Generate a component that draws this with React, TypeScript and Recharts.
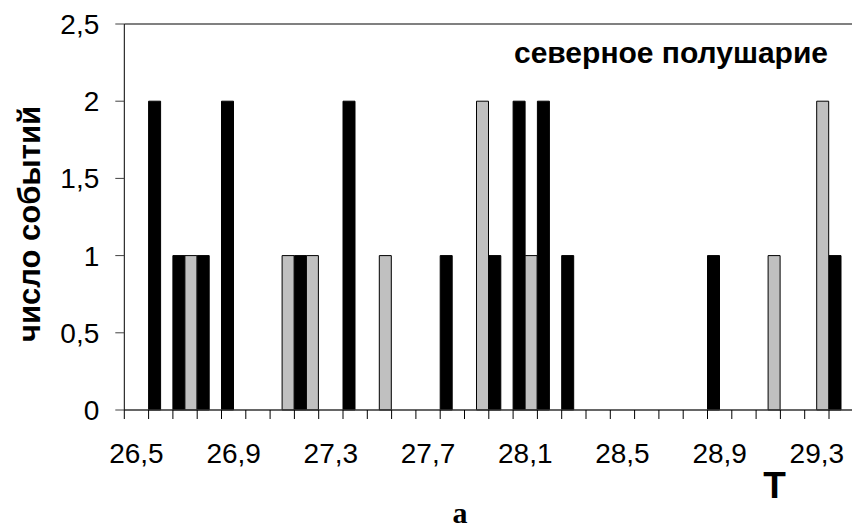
import React from 'react';
import { BarChart, Bar, XAxis, YAxis, ReferenceLine } from 'recharts';

// Categories (temperature T), one per 0.1
const categories = [
  '26,5', '26,6', '26,7', '26,8', '26,9', '27,0', '27,1', '27,2', '27,3', '27,4',
  '27,5', '27,6', '27,7', '27,8', '27,9', '28,0', '28,1', '28,2', '28,3', '28,4',
  '28,5', '28,6', '28,7', '28,8', '28,9', '29,0', '29,1', '29,2', '29,3', '29,4',
];
// Black series (left bar in each category)
const blackCounts = [0, 2, 1, 1, 2, 0, 0, 1, 0, 2, 0, 0, 0, 1, 0, 1, 2, 2, 1, 0, 0, 0, 0, 0, 1, 0, 0, 0, 0, 1];
// Grey series (right bar in each category)
const grayCounts = [0, 0, 1, 0, 0, 0, 1, 1, 0, 0, 1, 0, 0, 0, 2, 0, 1, 0, 0, 0, 0, 0, 0, 0, 0, 0, 1, 0, 2, 0];
const yTicks = [0, 0.5, 1, 1.5, 2, 2.5];
const labelEvery = 4;

const data = categories.map((cat, i) => ({ cat, black: blackCounts[i], gray: grayCounts[i] }));

const W = 860;
const H = 528;
const MARGIN = { top: 24, right: 6.7, bottom: 58, left: 0 };
const Y_AXIS_W = 124.3;
const X_AXIS_H = 60;
const PLOT_W = W - MARGIN.right - MARGIN.left - Y_AXIS_W;
const STEP = PLOT_W / categories.length;

const FONT = '"Liberation Sans", Arial, sans-serif';

const XTick = (props: any) => {
  const { x, y, payload, index } = props;
  const left = x - STEP / 2;
  const right = x + STEP / 2;
  return (
    <g>
      <line x1={left} x2={left} y1={y} y2={y + 9} stroke="#000" strokeWidth={1} />
      {index === categories.length - 1 && (
        <line x1={right} x2={right} y1={y} y2={y + 9} stroke="#000" strokeWidth={1} />
      )}
      {index % labelEvery === 0 && (
        <text x={x} y={y + 53} textAnchor="middle" fontFamily={FONT} fontSize={28} fill="#000">
          {payload.value}
        </text>
      )}
    </g>
  );
};

export default function App() {
  return (
    <div style={{ position: 'absolute', left: 0, top: 0, width: 852, height: 528, overflow: 'hidden', background: '#fff' }}>
      <BarChart
        width={W}
        height={H}
        data={data}
        margin={MARGIN}
        barCategoryGap={0}
        barGap={0}
      >
        <ReferenceLine y={2.5} stroke="#808080" strokeWidth={2} ifOverflow="extendDomain" />
        <XAxis
          dataKey="cat"
          interval={0}
          height={X_AXIS_H}
          tickLine={false}
          tickSize={0}
          tickMargin={0}
          axisLine={{ stroke: '#333', strokeWidth: 1.5 }}
          tick={<XTick />}
        />
        <YAxis
          type="number"
          domain={[0, 2.5]}
          ticks={yTicks}
          interval={0}
          width={Y_AXIS_W}
          tickSize={9}
          tickMargin={16}
          tickLine={{ stroke: '#404040' }}
          axisLine={{ stroke: '#000' }}
          tickFormatter={(v: number) => String(v).replace('.', ',')}
          tick={{ fill: '#000', fontSize: 28, fontFamily: FONT }}
        />
        <Bar dataKey="black" fill="#000" stroke="#000" strokeWidth={1} isAnimationActive={false} />
        <Bar dataKey="gray" fill="#C0C0C0" stroke="#000" strokeWidth={1} isAnimationActive={false} />
      </BarChart>
      <svg width={852} height={528} style={{ position: 'absolute', left: 0, top: 0, pointerEvents: 'none' }}>
        <text x={671} y={63} textAnchor="middle" fontFamily={FONT} fontWeight="bold" fontSize={30} fill="#000">
          северное полушарие
        </text>
        <text
          x={40}
          y={224}
          textAnchor="middle"
          transform="rotate(-90, 40, 224)"
          fontFamily={FONT}
          fontWeight="bold"
          fontSize={31}
          fill="#000"
        >
          число событий
        </text>
        <text x={774.5} y={498} textAnchor="middle" fontFamily={FONT} fontWeight="bold" fontSize={37} fill="#000">
          T
        </text>
        <text x={460} y={523} textAnchor="middle" fontFamily='"Liberation Serif", "Times New Roman", serif' fontWeight="bold" fontSize={30} fill="#000">
          а
        </text>
      </svg>
    </div>
  );
}
